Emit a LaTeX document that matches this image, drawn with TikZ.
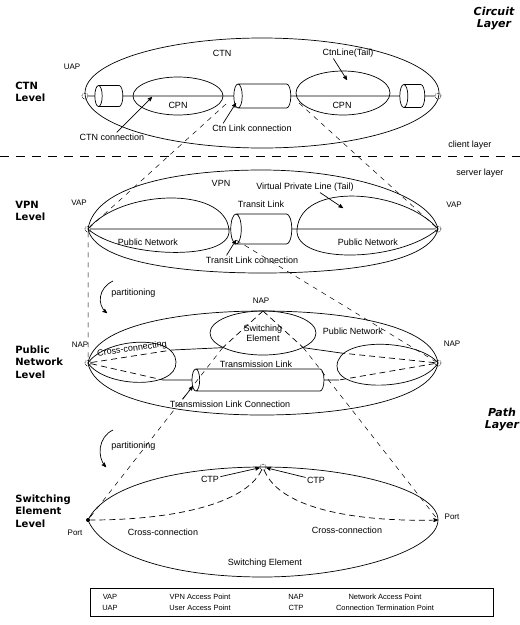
\documentclass[tikz,border=0pt]{standalone}
\usepackage{fontspec}
\setmainfont{Liberation Sans}
\newfontfamily\levelfont{DejaVu Sans}
\usetikzlibrary{arrows,shapes.geometric}
\tikzset{
  txt/.style = {font=\fontsize{9}{10}\selectfont, inner sep=1pt},
  small/.style = {font=\fontsize{8}{9}\selectfont, inner sep=1pt},
  legendtxt/.style = {font=\fontsize{7.5}{8.5}\selectfont, inner sep=0pt},
  levelname/.style = {font=\levelfont\bfseries\fontsize{10}{12.5}\selectfont,
    align=left, anchor=west, inner sep=0pt},
  layername/.style = {font=\levelfont\bfseries\itshape\fontsize{11}{12}\selectfont,
    align=center, inner sep=0pt},
  tube/.style = {cylinder, shape border rotate=180, draw, aspect=0.35,
    inner xsep=0pt, inner ysep=#1, outer sep=0pt},
  apoint/.style = {circle, draw, densely dotted, inner sep=0pt, minimum size=6pt},
  port/.style = {circle, fill, inner sep=0pt, minimum size=4pt},
  mapline/.style = {dash pattern=on 5pt off 5pt, line width=0.5pt},
  xconn/.style = {dash pattern=on 6pt off 4pt},
  separator/.style = {dash pattern=on 9pt off 7pt, line width=1pt},
}

\begin{document}
\begin{tikzpicture}[x=1pt, y=-1pt, line width=0.7pt, >=stealth']
  \useasboundingbox (0,0) rectangle (520,625);

  \node[apoint] (uapL) at (85,96) {};
  \node[apoint] (uapR) at (438,96) {};
  \node[apoint] (vapL) at (88,229) {};
  \node[apoint] (vapR) at (438,229) {};
  \node[apoint] (napL) at (88,363) {};
  \node[apoint] (napR) at (438,363) {};
  \coordinate (napT) at (263,311);
  \node[apoint] (ctp) at (263,467) {};
  \node[port] (portL) at (88,520) {};
  \coordinate (portR) at (438,520);

  \node[layername] (circuit) at (494,19) {Circuit\\Layer};
  \node[layername] (pathlayer) at (502,420) {Path\\Layer};
  \node[txt] (client) at (470,145) {client layer};
  \node[txt] (server) at (480,173) {server layer};
  \coordinate (sepL) at (0,156);
  \coordinate (sepR) at (520,156);
  \draw[separator] (sepL) -- (sepR);

  % CTN level
  \node[levelname] (ctnlevel) at (15,92) {CTN\\Level};
  \draw (262,93) ellipse [x radius=177, y radius=55];
  \draw (178,96) ellipse [x radius=45, y radius=19];
  \draw (343,93) ellipse [x radius=47, y radius=22];
  \node[tube=10.5pt, minimum height=28pt] (cpntubeL) at (112.7,96) {};
  \node[tube=12pt, minimum height=57pt] (ctnlink) at (266.7,96) {};
  \node[tube=11.5pt, minimum height=25pt] (cpntubeR) at (416.5,96) {};
  \draw (uapL) -- (cpntubeL) (cpntubeL) -- (ctnlink) (ctnlink) -- (cpntubeR) (cpntubeR) -- (uapR);
  \node[small] (uap) at (72,67) {UAP};
  \node[txt] (ctnname) at (222,53) {CTN};
  \node[txt] (ctnline) at (348,53) {CtnLine(Tail)};
  \node[txt] (cpnL) at (178,105) {CPN};
  \node[txt] (cpnR) at (342,105) {CPN};
  \node[txt] (ctnconn) at (112,137) {CTN connection};
  \node[txt] (linkconn) at (252,128) {Ctn Link connection};
  \coordinate (ctnconnTip) at (152,97);
  \coordinate (linkconnTip) at (236,103);
  \coordinate (ctnlineTip) at (347,80);
  \draw[->] (ctnconn) -- (ctnconnTip);
  \draw[->] ([xshift=12pt]linkconn.north west) -- (linkconnTip);
  \draw[->] ([xshift=12pt]ctnline.south west) -- (ctnlineTip);
  \coordinate (ctnA) at (226,104);
  \coordinate (ctnB) at (299,103);
  \draw[mapline] (ctnA) -- (vapL) (ctnB) -- (vapR);

  % VPN level
  \node[levelname] (vpnlevel) at (15,211) {VPN\\Level};
  \draw (vapL.center) .. controls (95,185) and (180,170) .. (262,170)
    .. controls (350,170) and (430,195) .. (vapR.center)
    .. controls (430,262) and (350,273) .. (262,273)
    .. controls (180,273) and (95,262) .. (vapL.center);
  \draw (vapL.center) .. controls (120,190) and (225,185) .. (229,230)
    .. controls (232,262) and (120,258) .. (vapL.center);
  \draw (vapR.center) .. controls (405,190) and (300,180) .. (297,230)
    .. controls (295,265) and (400,262) .. (vapR.center);
  \node[tube=15pt, minimum height=61pt] (transit) at (266.7,229) {};
  \draw (vapL) -- (transit) (transit) -- (vapR);
  \node[small] (vapLtext) at (79,203) {VAP};
  \node[small] (vapRtext) at (454,205) {VAP};
  \node[txt] (vpnname) at (221,183) {VPN};
  \node[txt] (vpl) at (305,187) {Virtual Private Line (Tail)};
  \node[txt] (transitname) at (261,204) {Transit Link};
  \node[txt] (pubL) at (148,242) {Public Network};
  \node[txt] (pubR) at (368,242) {Public Network};
  \node[txt] (transitconn) at (252,260) {Transit Link connection};
  \coordinate (vplTip) at (343,208);
  \coordinate (transitconnTip) at (236,240);
  \draw[->] ([xshift=15pt]vpl.south) -- (vplTip);
  \draw[->] ([xshift=22pt]transitconn.north west) -- (transitconnTip);
  \draw[mapline] (vapL) -- (napL) (transitconnTip) -- (napR);

  % Public Network level
  \node[levelname] (pnlevel) at (15,362) {Public\\Network\\Level};
  \draw (napL.center) .. controls (95,325) and (180,311) .. (napT)
    .. controls (345,311) and (432,325) .. (napR.center)
    .. controls (432,400) and (345,415) .. (262,415)
    .. controls (180,415) and (95,400) .. (napL.center);
  \draw (napL.center) .. controls (105,338) and (175,333) .. (176,362)
    .. controls (177,390) and (105,388) .. (napL.center);
  \draw (napR.center) .. controls (420,340) and (338,335) .. (337,366)
    .. controls (336,392) and (420,392) .. (napR.center);
  \node[txt, ellipse, draw, align=center, inner sep=0pt, minimum width=106pt,
    minimum height=44pt] (swe) at (263,333) {Switching\\Element};
  \node[tube=11pt, minimum height=132pt] (trans) at (262,380) {};
  \coordinate (xcL1) at (172,350);
  \coordinate (xcL2) at (163,380);
  \coordinate (xcR1) at (341,353);
  \coordinate (xcR2) at (339,380);
  \draw (xcL1) -- (swe.200) (swe.340) -- (xcR1) (xcL2) -- (trans) (trans) -- (xcR2);
  \draw[xconn] (napL) -- (xcL1) (napL) -- (xcL2) (napR) -- (xcR1) (napR) -- (xcR2);
  \draw[xconn] (napT) -- (swe.200) (napT) -- (swe.340);
  \node[small] (napTtext) at (261,301) {NAP};
  \node[small] (napLtext) at (80,345) {NAP};
  \node[small] (napRtext) at (452,344) {NAP};
  \node[txt] (pubnet) at (353,331) {Public Network};
  \node[txt] (transname) at (256,364) {Transmission Link};
  \node[txt] (transconn) at (230,404) {Transmission Link Connection};
  \node[txt, rotate=8] (crossing) at (132,349) {Cross-connecting};
  \coordinate (transconnTip) at (193,386);
  \draw[->] ([xshift=14pt]transconn.north west) -- (transconnTip);
  \draw[mapline] (swe.200) -- (portL) (swe.340) -- (portR);

  \node[txt, anchor=west] (part1) at (110,293) {partitioning};
  \coordinate (part1a) at (113,281);
  \coordinate (part1b) at (107,313);
  \draw[->] (part1a) .. controls (98,288) and (97,305) .. (part1b);
  \node[txt, anchor=west] (part2) at (110,446) {partitioning};
  \coordinate (part2a) at (113,430);
  \coordinate (part2b) at (106,467);
  \draw[->] (part2a) .. controls (98,437) and (97,457) .. (part2b);

  % Switching Element level
  \node[levelname] (selevel) at (15,511) {Switching\\Element\\Level};
  \draw (portL.center) .. controls (105,485) and (180,467) .. (ctp.center)
    .. controls (350,467) and (438,490) .. (portR)
    .. controls (438,550) and (350,577) .. (263,577)
    .. controls (160,577) and (100,550) .. (portL.center);
  \draw[xconn] (ctp) .. controls (245,505) and (170,520) .. (portL);
  \draw[xconn, ->] (ctp) .. controls (280,510) and (360,522) .. (portR);
  \node[txt] (ctpL) at (210,479) {CTP};
  \node[txt] (ctpR) at (316,480) {CTP};
  \draw[->] (ctpL) -- (ctp);
  \draw[->] (ctpR) -- (ctp);
  \node[txt] (crossL) at (163,532) {Cross-connection};
  \node[txt] (crossR) at (347,530) {Cross-connection};
  \node[small] (portLtext) at (75,533) {Port};
  \node[small] (portRtext) at (452,517) {Port};
  \node[txt] (sename) at (265,563) {Switching Element};

  % legend
  \node[draw, line width=0.5pt, minimum width=403pt, minimum height=28pt,
    inner sep=0pt] (legend) at (291.5,602) {};
  \node[legendtxt] (lvap) at (110,597) {VAP};
  \node[legendtxt] (lvapd) at (200,597) {VPN Access Point};
  \node[legendtxt] (lnap) at (296,597) {NAP};
  \node[legendtxt] (lnapd) at (385,597) {Network Access Point};
  \node[legendtxt] (luap) at (110,608) {UAP};
  \node[legendtxt] (luapd) at (200,608) {User Access Point};
  \node[legendtxt] (lctp) at (296,608) {CTP};
  \node[legendtxt] (lctpd) at (385,608) {Connection Termination Point};
\end{tikzpicture}
\end{document}
